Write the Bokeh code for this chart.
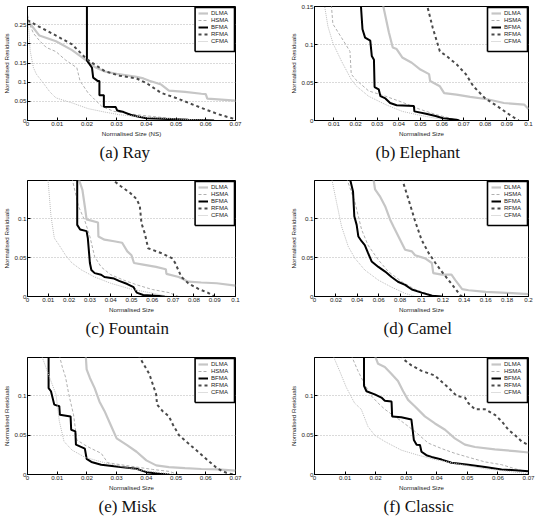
from bokeh.plotting import figure
from bokeh.layouts import column, row
from bokeh.models import FixedTicker, Range1d
from bokeh.embed import file_html
from bokeh.resources import INLINE

# ---------------- data: normalised size (x) vs normalised residuals (y) ----------------
METHODS = ["DLMA", "HSMA", "BFMA", "RFMA", "CFMA"]

# (a) Ray
ray_dlma_x = [0, 0.004, 0.0096, 0.015, 0.02, 0.0226, 0.026, 0.030, 0.0367, 0.039, 0.041, 0.045, 0.0476, 0.053, 0.0585, 0.0600, 0.0605, 0.07]
ray_dlma_y = [0.262, 0.222, 0.207, 0.184, 0.156, 0.140, 0.128, 0.122, 0.114, 0.110, 0.104, 0.094, 0.078, 0.075, 0.070, 0.069, 0.057, 0.052]
ray_hsma_x = [0, 0.0008, 0.002, 0.004, 0.0063, 0.0096, 0.0128, 0.0166, 0.0177, 0.0204, 0.0226, 0.025, 0.029, 0.0367, 0.0476, 0.053, 0.06]
ray_hsma_y = [0.275, 0.25, 0.228, 0.209, 0.191, 0.180, 0.158, 0.138, 0.103, 0.072, 0.055, 0.037, 0.024, 0.015, 0.006, 0.003, 0.0]
ray_bfma_x = [0.0200, 0.0200, 0.0217, 0.0221, 0.0237, 0.0242, 0.0242, 0.0257, 0.0257, 0.0297, 0.0302, 0.0324, 0.0346, 0.0367, 0.0400, 0.0476, 0.0541, 0.0628]
ray_bfma_y = [0.32, 0.157, 0.138, 0.112, 0.103, 0.103, 0.066, 0.066, 0.036, 0.035, 0.026, 0.022, 0.015, 0.011, 0.006, 0.004, 0.002, 0.0]
ray_rfma_x = [0, 0.004, 0.0096, 0.015, 0.020, 0.026, 0.031, 0.0367, 0.040, 0.045, 0.050, 0.0585, 0.064, 0.07]
ray_rfma_y = [0.262, 0.245, 0.222, 0.199, 0.160, 0.129, 0.117, 0.110, 0.098, 0.072, 0.059, 0.033, 0.017, 0.003]
ray_cfma_x = [0, 0.0005, 0.0009, 0.002, 0.003, 0.0052, 0.0075, 0.0096, 0.015, 0.0204, 0.026, 0.031, 0.0367, 0.042, 0.0476, 0.053, 0.06]
ray_cfma_y = [0.28, 0.23, 0.182, 0.138, 0.121, 0.099, 0.075, 0.059, 0.046, 0.031, 0.022, 0.015, 0.011, 0.008, 0.005, 0.003, 0.001]

# (b) Elephant
ele_dlma_x = [0.0327, 0.0354, 0.0372, 0.039, 0.0416, 0.046, 0.050, 0.054, 0.0545, 0.059, 0.061, 0.0667, 0.073, 0.081, 0.0886, 0.098, 0.1]
ele_dlma_y = [0.152, 0.116, 0.096, 0.094, 0.083, 0.076, 0.067, 0.061, 0.052, 0.045, 0.036, 0.034, 0.031, 0.028, 0.023, 0.021, 0.015]
ele_hsma_x = [0.0088, 0.0095, 0.0135, 0.0174, 0.018, 0.020, 0.026, 0.0338, 0.0416, 0.0495, 0.057, 0.065, 0.067]
ele_hsma_y = [0.152, 0.127, 0.109, 0.091, 0.061, 0.054, 0.039, 0.032, 0.024, 0.015, 0.008, 0.002, 0.0]
ele_bfma_x = [0.0225, 0.0225, 0.0232, 0.0244, 0.0268, 0.0275, 0.0285, 0.0288, 0.0307, 0.0315, 0.0338, 0.036, 0.039, 0.047, 0.0472, 0.0526, 0.057, 0.0604, 0.0667, 0.068]
ele_bfma_y = [0.16, 0.15, 0.12, 0.109, 0.105, 0.085, 0.080, 0.044, 0.041, 0.032, 0.029, 0.023, 0.020, 0.019, 0.012, 0.009, 0.006, 0.003, 0.001, 0.0]
ele_rfma_x = [0.0534, 0.0557, 0.059, 0.062, 0.0667, 0.071, 0.0745, 0.080, 0.0855, 0.090, 0.0948, 0.0955]
ele_rfma_y = [0.148, 0.122, 0.091, 0.085, 0.074, 0.061, 0.045, 0.029, 0.019, 0.010, 0.001, 0.0]
ele_cfma_x = [0.0056, 0.0072, 0.0095, 0.0135, 0.018, 0.0205, 0.026, 0.0338, 0.0416, 0.0495, 0.057, 0.0635]
ele_cfma_y = [0.152, 0.124, 0.102, 0.078, 0.054, 0.045, 0.032, 0.021, 0.012, 0.007, 0.003, 0.0]

# (c) Fountain
fou_dlma_x = [0.0245, 0.0264, 0.0276, 0.0284, 0.0339, 0.0341, 0.037, 0.0416, 0.0455, 0.048, 0.050, 0.0512, 0.0556, 0.0618, 0.0665, 0.0668, 0.0727, 0.0773, 0.0835, 0.091, 0.1]
fou_dlma_y = [0.152, 0.137, 0.115, 0.099, 0.095, 0.077, 0.073, 0.071, 0.069, 0.058, 0.053, 0.043, 0.041, 0.038, 0.035, 0.029, 0.025, 0.019, 0.018, 0.017, 0.014]
fou_hsma_x = [0.0214, 0.0245, 0.0276, 0.030, 0.0323, 0.0354, 0.040, 0.0463, 0.0525, 0.060, 0.068, 0.0727]
fou_hsma_y = [0.152, 0.116, 0.097, 0.077, 0.051, 0.038, 0.028, 0.021, 0.015, 0.009, 0.005, 0.0]
fou_bfma_x = [0.0239, 0.0239, 0.0253, 0.0284, 0.029, 0.030, 0.0307, 0.0323, 0.0354, 0.037, 0.0416, 0.044, 0.048, 0.051, 0.0525, 0.0556, 0.0634, 0.066]
fou_bfma_y = [0.16, 0.092, 0.086, 0.084, 0.075, 0.043, 0.034, 0.030, 0.028, 0.025, 0.023, 0.020, 0.016, 0.012, 0.005, 0.002, 0.0005, 0.0]
fou_rfma_x = [0.0398, 0.0447, 0.0494, 0.0525, 0.054, 0.0548, 0.0564, 0.058, 0.060, 0.065, 0.0696, 0.071, 0.074, 0.0773, 0.082, 0.0866, 0.0898]
fou_rfma_y = [0.152, 0.142, 0.133, 0.125, 0.116, 0.094, 0.081, 0.062, 0.060, 0.055, 0.049, 0.043, 0.025, 0.017, 0.010, 0.005, 0.0]
fou_cfma_x = [0.0098, 0.0113, 0.0129, 0.0152, 0.0183, 0.0214, 0.026, 0.0323, 0.040, 0.049, 0.0587, 0.068]
fou_cfma_y = [0.152, 0.103, 0.075, 0.066, 0.053, 0.043, 0.034, 0.025, 0.017, 0.010, 0.005, 0.0]

# (d) Camel
cam_dlma_x = [0.055, 0.0566, 0.061, 0.066, 0.0706, 0.0738, 0.080, 0.0847, 0.091, 0.094, 0.1034, 0.1097, 0.111, 0.119, 0.128, 0.1316, 0.138, 0.144, 0.16, 0.175, 0.2]
cam_dlma_y = [0.152, 0.1375, 0.129, 0.116, 0.099, 0.090, 0.073, 0.060, 0.058, 0.053, 0.049, 0.043, 0.030, 0.028, 0.028, 0.021, 0.0095, 0.008, 0.006, 0.005, 0.003]
cam_hsma_x = [0.030, 0.0378, 0.044, 0.050, 0.0597, 0.069, 0.0816, 0.094, 0.1066, 0.116]
cam_hsma_y = [0.152, 0.121, 0.086, 0.066, 0.047, 0.032, 0.019, 0.009, 0.003, 0.0]
cam_bfma_x = [0.033, 0.036, 0.0372, 0.0394, 0.041, 0.044, 0.047, 0.050, 0.0534, 0.0597, 0.066, 0.072, 0.078, 0.0847, 0.091, 0.100, 0.110, 0.119]
cam_bfma_y = [0.152, 0.135, 0.103, 0.092, 0.077, 0.071, 0.066, 0.056, 0.045, 0.038, 0.032, 0.025, 0.019, 0.015, 0.009, 0.005, 0.001, 0.0]
cam_rfma_x = [0.0816, 0.0878, 0.094, 0.100, 0.1066, 0.113, 0.119, 0.1253, 0.1316, 0.136, 0.138]
cam_rfma_y = [0.152, 0.125, 0.097, 0.073, 0.056, 0.043, 0.032, 0.021, 0.010, 0.002, 0.0]
cam_cfma_x = [0.016, 0.0206, 0.0253, 0.0316, 0.0378, 0.047, 0.0597, 0.072, 0.0847, 0.094]
cam_cfma_y = [0.152, 0.121, 0.090, 0.064, 0.049, 0.034, 0.021, 0.012, 0.004, 0.0]

# (e) Misk
mis_dlma_x = [0.0196, 0.0199, 0.021, 0.0226, 0.0242, 0.0259, 0.028, 0.030, 0.0335, 0.0367, 0.040, 0.0433, 0.0476, 0.053, 0.0585, 0.064, 0.07]
mis_dlma_y = [0.152, 0.134, 0.123, 0.110, 0.093, 0.081, 0.063, 0.046, 0.0375, 0.029, 0.018, 0.0116, 0.0095, 0.008, 0.007, 0.0065, 0.005]
mis_hsma_x = [0.0107, 0.0117, 0.0128, 0.0139, 0.0155, 0.0166, 0.0193, 0.0215, 0.0248, 0.027, 0.0313, 0.0367, 0.042, 0.0476, 0.0509]
mis_hsma_y = [0.152, 0.137, 0.124, 0.102, 0.076, 0.044, 0.0375, 0.033, 0.027, 0.015, 0.0125, 0.0095, 0.0065, 0.004, 0.0]
mis_bfma_x = [0.0071, 0.0071, 0.0079, 0.009, 0.0107, 0.0109, 0.0145, 0.0147, 0.0161, 0.0163, 0.0193, 0.0199, 0.0215, 0.0248, 0.0313, 0.0367, 0.040, 0.0443, 0.0476]
mis_bfma_y = [0.16, 0.110, 0.106, 0.089, 0.087, 0.076, 0.074, 0.057, 0.055, 0.038, 0.033, 0.020, 0.016, 0.0125, 0.0095, 0.0073, 0.003, 0.0009, 0.0]
mis_rfma_x = [0.0373, 0.039, 0.041, 0.0433, 0.0436, 0.0454, 0.0476, 0.049, 0.051, 0.054, 0.0574, 0.0607, 0.064, 0.067, 0.0693]
mis_rfma_y = [0.152, 0.141, 0.128, 0.102, 0.089, 0.081, 0.074, 0.063, 0.050, 0.040, 0.029, 0.018, 0.0073, 0.002, 0.0]
mis_cfma_x = [0.0047, 0.0074, 0.0096, 0.0107, 0.0123, 0.015, 0.0193, 0.0259, 0.0324, 0.039, 0.0454, 0.0498]
mis_cfma_y = [0.152, 0.124, 0.102, 0.068, 0.042, 0.031, 0.022, 0.015, 0.0095, 0.005, 0.002, 0.0]

# (f) Classic
cla_dlma_x = [0.0197, 0.0208, 0.023, 0.0252, 0.0273, 0.029, 0.0306, 0.0328, 0.0361, 0.0394, 0.0427, 0.0459, 0.0492, 0.0525, 0.059, 0.0656, 0.07]
cla_dlma_y = [0.152, 0.141, 0.137, 0.128, 0.119, 0.106, 0.095, 0.087, 0.074, 0.065, 0.057, 0.046, 0.038, 0.035, 0.032, 0.0297, 0.028]
cla_hsma_x = [0.012, 0.0142, 0.0164, 0.0186, 0.0208, 0.023, 0.0284, 0.0328, 0.0372, 0.0416, 0.0459, 0.0503, 0.0558, 0.0612, 0.0656, 0.07]
cla_hsma_y = [0.152, 0.132, 0.115, 0.100, 0.091, 0.083, 0.068, 0.055, 0.040, 0.033, 0.027, 0.022, 0.016, 0.0125, 0.0073, 0.003]
cla_bfma_x = [0.0162, 0.0162, 0.017, 0.0197, 0.0219, 0.023, 0.0252, 0.0254, 0.0284, 0.0317, 0.0325, 0.0334, 0.0345, 0.035, 0.0366, 0.0383, 0.0416, 0.0448, 0.0503, 0.0558, 0.0612, 0.07]
cla_bfma_y = [0.16, 0.113, 0.106, 0.102, 0.098, 0.094, 0.093, 0.074, 0.073, 0.070, 0.044, 0.038, 0.0375, 0.029, 0.0246, 0.0224, 0.019, 0.015, 0.0125, 0.0095, 0.0065, 0.004]
cla_rfma_x = [0.0285, 0.029, 0.0317, 0.035, 0.0394, 0.0405, 0.0437, 0.0465, 0.0492, 0.0503, 0.0525, 0.0558, 0.059, 0.0612, 0.0634, 0.0656, 0.0678, 0.07]
cla_rfma_y = [0.152, 0.147, 0.139, 0.132, 0.126, 0.122, 0.111, 0.100, 0.098, 0.091, 0.083, 0.083, 0.076, 0.068, 0.057, 0.050, 0.042, 0.0375]
cla_cfma_x = [0.006, 0.0082, 0.0104, 0.0131, 0.0153, 0.0175, 0.0197, 0.023, 0.0284, 0.0339, 0.0394, 0.0448, 0.0503, 0.0558, 0.0612, 0.07]
cla_cfma_y = [0.152, 0.132, 0.111, 0.091, 0.083, 0.061, 0.050, 0.042, 0.031, 0.0246, 0.019, 0.015, 0.011, 0.0073, 0.005, 0.001]

# axis ticks
ticks_007 = [0, 0.01, 0.02, 0.03, 0.04, 0.05, 0.06, 0.07]
ticks_01 = [0, 0.01, 0.02, 0.03, 0.04, 0.05, 0.06, 0.07, 0.08, 0.09, 0.1]
ticks_01_no0 = [0.01, 0.02, 0.03, 0.04, 0.05, 0.06, 0.07, 0.08, 0.09, 0.1]
ticks_02 = [0, 0.02, 0.04, 0.06, 0.08, 0.1, 0.12, 0.14, 0.16, 0.18, 0.2]
yticks_ray = [0, 0.05, 0.1, 0.15, 0.2, 0.25]
yticks_015 = [0, 0.05, 0.1, 0.15]
yticks_01 = [0, 0.05, 0.1]

# ---------------- styling ----------------
STYLE = {
    "DLMA": dict(line_color="#c6c6c6", line_width=2.2),
    "HSMA": dict(line_color="#b0b0b0", line_width=1, line_dash="3 2"),
    "BFMA": dict(line_color="#000000", line_width=2),
    "RFMA": dict(line_color="#4a4a4a", line_width=2, line_dash="3 3"),
    "CFMA": dict(line_color="#bcbcbc", line_width=1, line_dash="1 1"),
}
SANS = "Liberation Sans"
BOX_W, BOX_H = 40, 44     # framed legend panel, pixels
BOX_MARGIN = 1
LEGEND_MARGIN = 4


def panel(caption, caption_offset, xlabel, xr, y_end, xticks, yticks, series,
          width, height, borders, axis_left):
    left, right, top, bottom = borders
    p = figure(width=width, height=height, output_backend="svg", toolbar_location=None,
               x_range=Range1d(*xr), y_range=Range1d(0, y_end),
               title=caption, title_location="below",
               min_border_left=left, min_border_right=right,
               min_border_top=top, min_border_bottom=bottom)
    p.background_fill_color = "white"
    p.border_fill_color = "white"
    p.outline_line_color = "black"
    p.outline_line_alpha = 1
    p.outline_line_width = 1

    for name, (xs, ys) in zip(METHODS, series):
        p.line(xs, ys, legend_label=name, **STYLE[name])

    # white framed panel under the legend entries, hiding the curves behind them
    fw = width - max(left, axis_left) - right
    fh = height - top - bottom
    dx = (xr[1] - xr[0]) / fw
    dy = y_end / fh
    bl = xr[1] - (BOX_W + BOX_MARGIN) * dx
    br = xr[1] - BOX_MARGIN * dx
    bb = y_end - (BOX_H + BOX_MARGIN) * dy
    bt = y_end - BOX_MARGIN * dy
    p.quad(left=[bl], right=[br], bottom=[bb], top=[bt],
           fill_color="white", fill_alpha=1.0, line_color=None)
    p.line([bl, br, br, bl, bl], [bb, bb, bt, bt, bb],
           line_color="black", line_width=1.6, line_join="miter")

    p.xaxis.ticker = FixedTicker(ticks=xticks)
    p.yaxis.ticker = FixedTicker(ticks=yticks)
    p.xaxis.major_label_overrides = {t: f"{t:g}" for t in xticks}
    p.yaxis.major_label_overrides = {t: f"{t:g}" for t in yticks}
    p.xaxis.axis_label = xlabel
    p.yaxis.axis_label = "Normalised Residuals"
    for ax in (p.xaxis, p.yaxis):
        ax.axis_line_color = "black"
        ax.major_tick_in = 3
        ax.major_tick_out = 0
        ax.major_tick_line_color = "black"
        ax.minor_tick_line_color = None
        ax.major_label_text_font = SANS
        ax.major_label_text_font_size = "6.2px"
        ax.major_label_text_color = "#222222"
        ax.major_label_standoff = 1
        ax.axis_label_text_font = SANS
        ax.axis_label_text_font_size = "6.2px"
        ax.axis_label_text_font_style = "normal"
        ax.axis_label_text_color = "#222222"
        ax.axis_label_standoff = 1

    p.xgrid.grid_line_color = None
    p.ygrid.grid_line_color = "#b5b5b5"
    p.ygrid.grid_line_dash = "1 2"
    p.ygrid.grid_line_width = 1

    lg = p.legend[0]
    lg.location = "top_right"
    lg.margin = LEGEND_MARGIN
    lg.padding = 2
    lg.spacing = 1
    lg.glyph_width = 10
    lg.glyph_height = 6
    lg.label_height = 6
    lg.label_standoff = 3
    lg.label_text_font = SANS
    lg.label_text_font_size = "6px"
    lg.label_text_color = "#222222"
    lg.background_fill_color = None
    lg.background_fill_alpha = 0
    lg.border_line_color = None

    p.title.align = "left"
    p.title.offset = caption_offset
    p.title.text_font = "Liberation Serif"
    p.title.text_font_size = "17px"
    p.title.text_font_style = "normal"
    p.title.text_color = "#111111"
    p.title.standoff = 2
    return p


LB = (21, 33)
RB = (46, 9)

pa = panel("(a) Ray", 72, "Normalised Size (NS)", (0, 0.07), 0.298, ticks_007, yticks_ray,
           [(ray_dlma_x, ray_dlma_y), (ray_hsma_x, ray_hsma_y), (ray_bfma_x, ray_bfma_y),
            (ray_rfma_x, ray_rfma_y), (ray_cfma_x, ray_cfma_y)],
           268, 170, (*LB, 6, 50), 24)
pb = panel("(b) Elephant", 61, "Normalised Size", (0.001, 0.1), 0.15, ticks_01_no0, yticks_015,
           [(ele_dlma_x, ele_dlma_y), (ele_hsma_x, ele_hsma_y), (ele_bfma_x, ele_bfma_y),
            (ele_rfma_x, ele_rfma_y), (ele_cfma_x, ele_cfma_y)],
           269, 170, (*RB, 6, 50), 24)
pc = panel("(c) Fountain", 58, "Normalised Size", (0, 0.1), 0.149, ticks_01, yticks_01,
           [(fou_dlma_x, fou_dlma_y), (fou_hsma_x, fou_hsma_y), (fou_bfma_x, fou_bfma_y),
            (fou_rfma_x, fou_rfma_y), (fou_cfma_x, fou_cfma_y)],
           268, 175, (*LB, 10, 49), 24)
pd_ = panel("(d) Camel", 69, "Normalised Size", (0, 0.2), 0.149, ticks_02, yticks_01,
            [(cam_dlma_x, cam_dlma_y), (cam_hsma_x, cam_hsma_y), (cam_bfma_x, cam_bfma_y),
             (cam_rfma_x, cam_rfma_y), (cam_cfma_x, cam_cfma_y)],
            269, 175, (*RB, 10, 49), 24)
pe = panel("(e) Misk", 71, "Normalised Size", (0, 0.07), 0.149, ticks_007, yticks_01,
           [(mis_dlma_x, mis_dlma_y), (mis_hsma_x, mis_hsma_y), (mis_bfma_x, mis_bfma_y),
            (mis_rfma_x, mis_rfma_y), (mis_cfma_x, mis_cfma_y)],
           268, 177, (*LB, 12, 48), 24)
pf = panel("(f) Classic", 69, "Normalised Size", (0, 0.07), 0.149, ticks_007, yticks_01,
           [(cla_dlma_x, cla_dlma_y), (cla_hsma_x, cla_hsma_y), (cla_bfma_x, cla_bfma_y),
            (cla_rfma_x, cla_rfma_y), (cla_cfma_x, cla_cfma_y)],
           269, 177, (*RB, 12, 48), 24)

p = column(row(pa, pb), row(pc, pd_), row(pe, pf))

open("out.html", "w").write(file_html(p, INLINE))
